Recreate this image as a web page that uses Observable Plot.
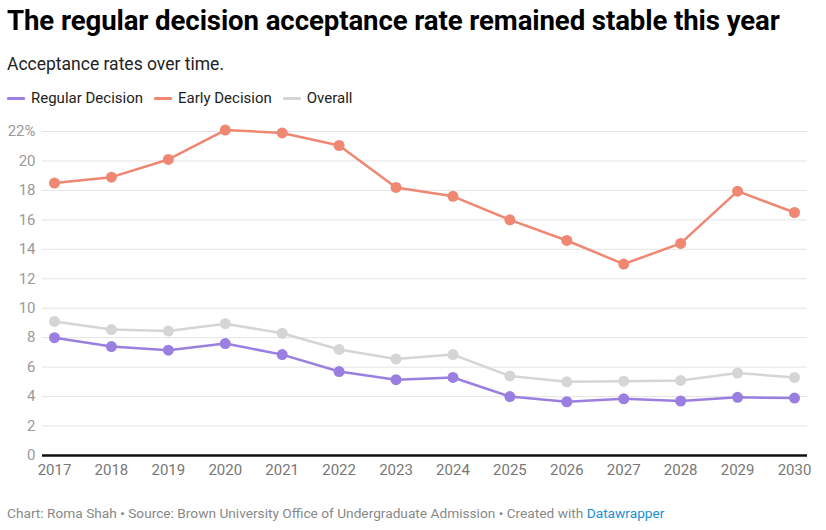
<!DOCTYPE html>
<html>
<head>
<meta charset="utf-8">
<script src="https://cdn.jsdelivr.net/npm/d3@7/dist/d3.min.js"></script>
<script src="https://cdn.jsdelivr.net/npm/@observablehq/plot@0.6/dist/plot.umd.min.js"></script>
<style>
  body { margin: 0; background: #fff; font-family: Roboto, sans-serif; }
  #wrap { width: 826px; height: 530px; position: relative; overflow: hidden; }
  h1 { margin: 0; position: absolute; left: 7px; top: 4px; font-size: 27.6px; font-weight: 700; color: #000; white-space: nowrap; letter-spacing: -0.1px; }
  .sub { position: absolute; left: 7px; top: 54px; font-size: 17.5px; color: #222; }
  .legend { position: absolute; left: 7px; top: 89px; font-size: 15px; color: #222; display: flex; gap: 11px; }
  .legend span { display: inline-flex; align-items: center; }
  .legend i { display: inline-block; width: 18px; height: 3px; margin-right: 6px; border-radius: 1px; }
  #chart { position: absolute; left: 0; top: 115px; }
  .foot { position: absolute; left: 7px; top: 505px; font-size: 13.7px; color: #888; }
  .foot a { text-decoration: none; color: #178fd6; }
</style>
</head>
<body>
<div id="wrap">
  <h1>The regular decision acceptance rate remained stable this year</h1>
  <div class="sub">Acceptance rates over time.</div>
  <div class="legend" id="legend"></div>
  <div id="chart"></div>
  <div class="foot">Chart: Roma Shah • Source: Brown University Office of Undergraduate Admission • Created with <a>Datawrapper</a></div>
</div>
<script>
const years = [2017, 2018, 2019, 2020, 2021, 2022, 2023, 2024, 2025, 2026, 2027, 2028, 2029, 2030];
const regularDecision = [8.0, 7.4, 7.15, 7.6, 6.85, 5.7, 5.15, 5.3, 4.0, 3.65, 3.85, 3.7, 3.95, 3.9];
const earlyDecision = [18.5, 18.9, 20.1, 22.1, 21.9, 21.05, 18.2, 17.6, 16.0, 14.6, 13.0, 14.4, 17.95, 16.5];
const overall = [9.1, 8.55, 8.45, 8.95, 8.3, 7.2, 6.55, 6.85, 5.4, 5.0, 5.05, 5.1, 5.6, 5.3];
const yTicks = [0, 2, 4, 6, 8, 10, 12, 14, 16, 18, 20, 22];

const seriesNames = ["Regular Decision", "Early Decision", "Overall"];
const seriesColors = ["#9a7fe0", "#ef8773", "#d5d5d5"];
const seriesValues = [regularDecision, earlyDecision, overall];

const legend = document.getElementById("legend");
seriesNames.forEach((n, i) => {
  const s = document.createElement("span");
  s.innerHTML = `<i style="background:${seriesColors[i]}"></i>${n}`;
  legend.appendChild(s);
});

const data = [];
[2, 0, 1].forEach(i => {
  years.forEach((y, j) => data.push({year: y, value: seriesValues[i][j], series: seriesNames[i]}));
});

const chart = Plot.plot({
  width: 826,
  height: 375,
  marginLeft: 42,
  marginRight: 19,
  marginTop: 16,
  marginBottom: 35,
  style: {fontFamily: "Roboto, sans-serif", fontSize: "15px", background: "transparent"},
  x: {type: "linear", domain: [2017, 2030], insetLeft: 12, insetRight: 13, label: null},
  y: {domain: [0, 22], label: null},
  color: {domain: seriesNames, range: seriesColors},
  marks: [
    Plot.ruleY(yTicks.filter(d => d > 0), {stroke: "#e4e4e4", strokeWidth: 1}),
    Plot.axisY(yTicks, {tickSize: 0, tickPadding: 7, tickFormat: d => d === 22 ? "22%" : String(d), fill: "#9a9a9a", fontSize: 15, label: null}),
    Plot.axisX(years, {tickSize: 0, tickPadding: 9, tickFormat: d => String(d), fill: "#777", fontSize: 15, label: null}),
    Plot.line(data, {x: "year", y: "value", z: "series", stroke: "series", strokeWidth: 2.5}),
    Plot.dot(data, {x: "year", y: "value", fill: "series", r: 5.5}),
    Plot.ruleY([0], {stroke: "#111", strokeWidth: 2.5})
  ]
});
document.getElementById("chart").appendChild(chart);
</script>
</body>
</html>
